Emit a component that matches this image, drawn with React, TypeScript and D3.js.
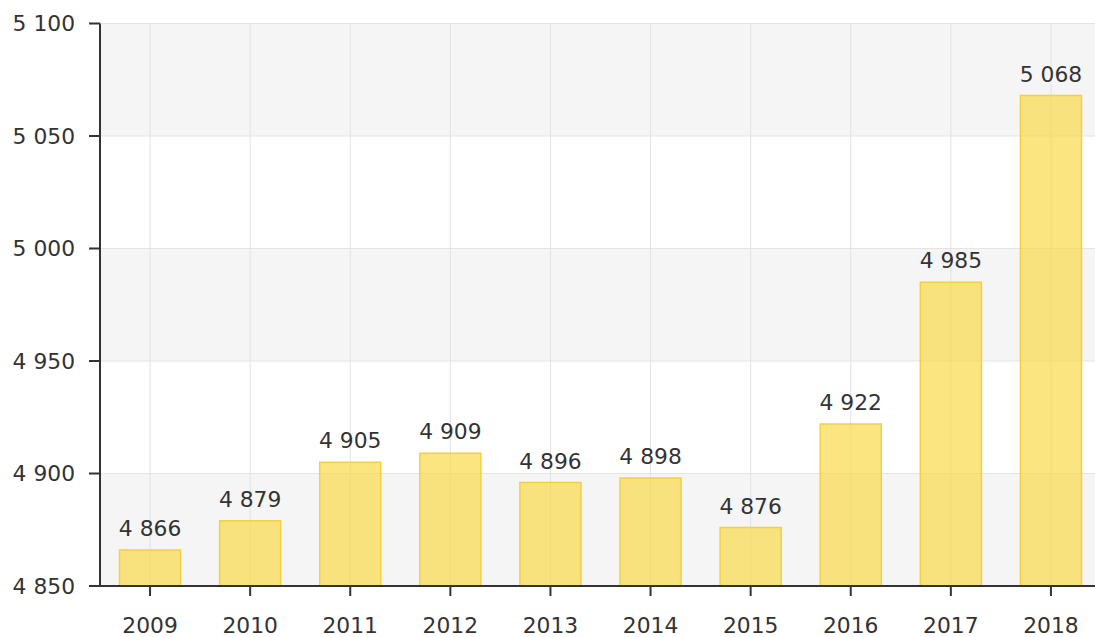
import React from "react";
import * as d3 from "d3";

const years = ["2009", "2010", "2011", "2012", "2013", "2014", "2015", "2016", "2017", "2018"];
const values = [4866, 4879, 4905, 4909, 4896, 4898, 4876, 4922, 4985, 5068];
const yTicks = [4850, 4900, 4950, 5000, 5050, 5100];

const W = 1095;
const H = 637;
const fmt = (v: number) => {
  const s = String(v);
  return s.replace(/\B(?=(\d{3})+(?!\d))/g, " ");
};

export default function App() {
  const x = d3
    .scaleBand<string>()
    .domain(years)
    .range([100, 1101])
    .paddingInner(0.39)
    .paddingOuter(0.195);
  const y = d3.scaleLinear().domain([4850, 5100]).range([586, 23.5]);
  const font = "'DejaVu Sans', Verdana, sans-serif";
  const fs = 21.8;
  const left = 100;
  const right = 1101;

  const bands = yTicks.slice(0, -1).map((t, i) => ({ lo: t, hi: yTicks[i + 1], i }));

  return (
    <svg width={W} height={H} style={{ position: "absolute", left: 0, top: 0 }}>
      <rect x={0} y={0} width={W} height={H} fill="#fff" />
      {bands.map((b) =>
        (yTicks.length - 2 - b.i) % 2 === 0 ? (
          <rect
            key={b.lo}
            x={left}
            y={y(b.hi)}
            width={right - left}
            height={y(b.lo) - y(b.hi)}
            fill="#f5f5f5"
          />
        ) : null
      )}
      {yTicks.map((t) => (
        <line key={t} x1={left} x2={right} y1={y(t)} y2={y(t)} stroke="#e4e4e4" strokeWidth={1} />
      ))}
      {years.map((yr) => {
        const cx = (x(yr) as number) + x.bandwidth() / 2;
        return <line key={yr} x1={cx} x2={cx} y1={y(5100)} y2={y(4850)} stroke="#e2e2e2" strokeWidth={1} />;
      })}
      {years.map((yr, i) => (
        <rect
          key={yr}
          x={x(yr)}
          y={y(values[i])}
          width={x.bandwidth()}
          height={y(4850) - y(values[i])}
          fill="rgba(248, 216, 70, 0.68)"
          stroke="#f3d040"
          strokeWidth={1.5}
        />
      ))}
      {years.map((yr, i) => (
        <text
          key={yr}
          x={(x(yr) as number) + x.bandwidth() / 2}
          y={y(values[i]) - 14}
          textAnchor="middle"
          fontFamily={font}
          fontSize={fs}
          fill="#333"
        >
          {fmt(values[i])}
        </text>
      ))}
      {/* axes */}
      <line x1={left} x2={left} y1={y(5100)} y2={y(4850) + 1} stroke="#333" strokeWidth={2} />
      <line x1={left - 1} x2={right} y1={y(4850)} y2={y(4850)} stroke="#333" strokeWidth={2} />
      {yTicks.map((t) => (
        <g key={t}>
          <line x1={89} x2={left} y1={y(t)} y2={y(t)} stroke="#333" strokeWidth={2} />
          <text
            x={75}
            y={y(t)}
            dy="0.36em"
            textAnchor="end"
            fontFamily={font}
            fontSize={fs}
            fill="#333"
          >
            {fmt(t)}
          </text>
        </g>
      ))}
      {years.map((yr) => {
        const cx = (x(yr) as number) + x.bandwidth() / 2;
        return (
          <g key={yr}>
            <line x1={cx} x2={cx} y1={y(4850)} y2={y(4850) + 10} stroke="#333" strokeWidth={2} />
            <text x={cx} y={633} textAnchor="middle" fontFamily={font} fontSize={fs} fill="#333">
              {yr}
            </text>
          </g>
        );
      })}
    </svg>
  );
}
